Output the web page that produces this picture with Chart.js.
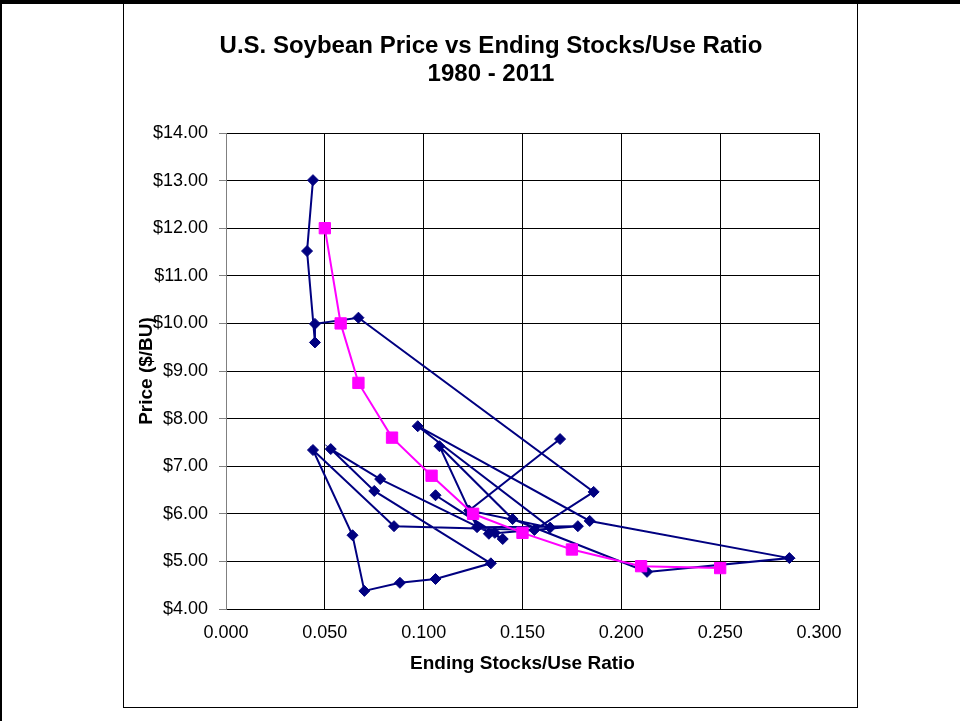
<!DOCTYPE html>
<html>
<head>
<meta charset="utf-8">
<script src="https://cdn.jsdelivr.net/npm/chart.js@4/dist/chart.umd.min.js"></script>
<style>
  html, body { margin: 0; padding: 0; background: #fff; }
  body { width: 960px; height: 721px; position: relative; overflow: hidden; }
  #topLine { position: absolute; left: 0; top: 0; width: 960px; height: 4px; background: #000; }
  #leftLine { position: absolute; left: 0; top: 0; width: 2px; height: 721px; background: #000; }
  #frame { position: absolute; left: 123px; top: 3px; width: 733px; height: 703px; border: 1px solid #000; }
  #wrap { position: absolute; left: 124px; top: 5px; width: 734px; height: 702px; }
</style>
</head>
<body>
<div id="topLine"></div>
<div id="leftLine"></div>
<div id="frame"></div>
<div id="wrap"><canvas id="soyChart" width="734" height="702"></canvas></div>
<script>
// Soybean marketing years 1980 - 2011
const years = [1980, 1981, 1982, 1983, 1984, 1985, 1986, 1987, 1988, 1989,
               1990, 1991, 1992, 1993, 1994, 1995, 1996, 1997, 1998, 1999,
               2000, 2001, 2002, 2003, 2004, 2005, 2006, 2007, 2008, 2009,
               2010, 2011];
// Ending stocks / use ratio
const stocksUse = [0.169, 0.123, 0.164, 0.097, 0.184, 0.285, 0.213, 0.145, 0.108, 0.127,
                   0.178, 0.133, 0.136, 0.106, 0.140, 0.078, 0.053, 0.075, 0.134, 0.106,
                   0.088, 0.070, 0.064, 0.044, 0.085, 0.156, 0.186, 0.067, 0.045, 0.045,
                   0.041, 0.044];
// Season average price ($/bu)
const prices = [7.57, 6.07, 5.71, 7.84, 5.85, 5.07, 4.78, 5.89, 7.42, 5.72,
                5.74, 5.58, 5.60, 6.39, 5.47, 6.73, 7.36, 6.48, 4.96, 4.63,
                4.55, 4.38, 5.55, 7.34, 5.74, 5.66, 6.46, 10.12, 9.99, 9.60,
                11.52, 13.01];

// Price curve (magenta squares)
const curveRatio = [0.050, 0.058, 0.067, 0.084, 0.104, 0.125, 0.150, 0.175, 0.210, 0.250];
const curvePrice = [12.00, 10.00, 8.75, 7.60, 6.80, 6.00, 5.60, 5.25, 4.90, 4.86];

const navy = '#000080';
const magenta = '#FF00FF';
const fontFamily = '"Liberation Sans", Arial, sans-serif';

function pts(xs, ys) {
    return xs.map((x, i) => ({ x: x, y: ys[i] }));
}

new Chart(document.getElementById('soyChart'), {
    type: 'scatter',
    data: {
        datasets: [{
            label: 'Price',
            data: pts(stocksUse, prices),
            showLine: true,
            borderColor: navy,
            backgroundColor: navy,
            borderWidth: 2,
            pointStyle: 'rectRot',
            pointRadius: 5.5,
            pointBorderWidth: 1,
            order: 1
        }, {
            label: 'Curve',
            data: pts(curveRatio, curvePrice),
            showLine: true,
            borderColor: magenta,
            backgroundColor: magenta,
            borderWidth: 2,
            pointStyle: 'rect',
            pointRadius: 8,
            pointBorderWidth: 1,
            order: 0
        }]
    },
    options: {
        responsive: false,
        animation: false,
        layout: { padding: { left: 7, right: 7, top: 20, bottom: 28 } },
        plugins: {
            legend: { display: false },
            tooltip: { enabled: false },
            title: {
                display: true,
                text: ['U.S. Soybean Price vs Ending Stocks/Use Ratio', '1980 - 2011'],
                color: '#000',
                font: { family: fontFamily, size: 24, weight: 'bold', lineHeight: 1.1667 },
                padding: { top: 7, bottom: 45 }
            }
        },
        scales: {
            x: {
                type: 'linear',
                min: 0,
                max: 0.3,
                afterFit: s => { s.height = 70; },
                ticks: {
                    stepSize: 0.05,
                    padding: 13,
                    color: '#000',
                    font: { family: fontFamily, size: 18 },
                    callback: v => v.toFixed(3)
                },
                grid: {
                    color: ctx => ctx.index === 0 ? '#808080' : '#000',
                    lineWidth: 1,
                    drawTicks: false
                },
                border: { color: '#000' },
                title: {
                    display: true,
                    text: 'Ending Stocks/Use Ratio',
                    color: '#000',
                    font: { family: fontFamily, size: 19, weight: 'bold' }
                }
            },
            y: {
                min: 4,
                max: 14,
                afterFit: s => { s.width = 95; },
                ticks: {
                    stepSize: 1,
                    padding: 11,
                    color: '#000',
                    font: { family: fontFamily, size: 18 },
                    callback: v => '$' + v.toFixed(2)
                },
                grid: {
                    color: '#000',
                    lineWidth: 1,
                    tickLength: 7,
                    tickColor: '#808080'
                },
                border: { color: '#808080' },
                title: {
                    display: true,
                    text: 'Price ($/BU)',
                    color: '#000',
                    font: { family: fontFamily, size: 19, weight: 'bold' }
                }
            },
            // empty right-hand spacer so the plot sits left of the box centre
            spacer: {
                type: 'linear',
                position: 'right',
                afterFit: s => { s.width = 32; },
                ticks: { display: false },
                grid: { display: false },
                border: { display: false }
            }
        }
    }
});
</script>
</body>
</html>
